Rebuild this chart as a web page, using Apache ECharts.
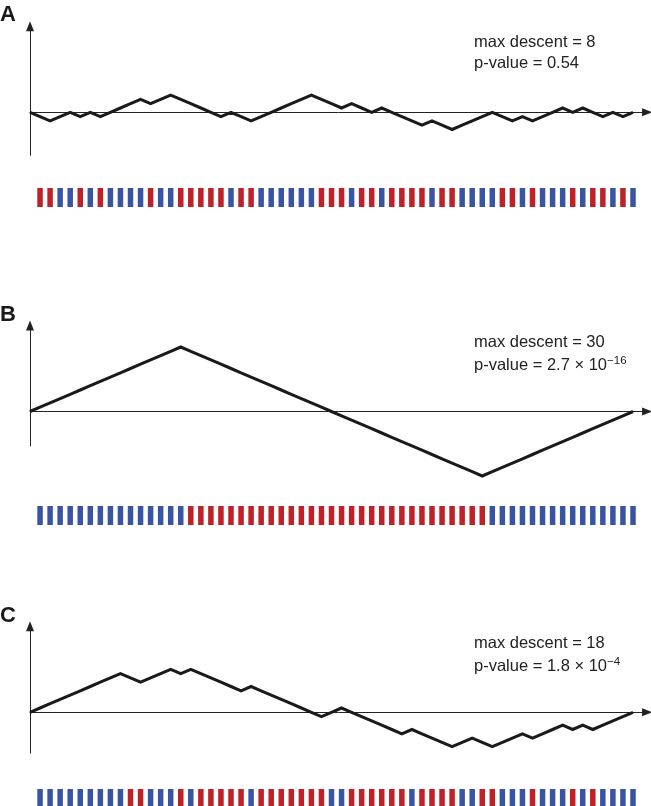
<!DOCTYPE html>
<html>
<head>
<meta charset="utf-8">
<script src="https://cdn.jsdelivr.net/npm/echarts@6/dist/echarts.min.js"></script>
<style>
  html, body { margin: 0; padding: 0; background: #fff; }
  #chart { width: 651px; height: 806px; }
</style>
</head>
<body>
<div id="chart"></div>
<script>
// step colours: B = up step (blue), R = down step (red)
const stepsA = ['R','R','B','B','R','B','R','B','B','B','B','R','B','B','R','R','R','R','R','B',
  'R','R','B','B','B','B','B','B','R','R','R','B','R','R','B','R','R','R','R','B',
  'R','R','B','B','B','B','R','R','B','R','B','B','B','R','B','R','R','B','R','B'];
const stepsB = ['B','B','B','B','B','B','B','B','B','B','B','B','B','B','B',
  'R','R','R','R','R','R','R','R','R','R','R','R','R','R','R',
  'R','R','R','R','R','R','R','R','R','R','R','R','R','R','R',
  'B','B','B','B','B','B','B','B','B','B','B','B','B','B','B'];
const stepsC = ['B','B','B','B','B','B','B','B','B','R','R','B','B','B','R','B','R','R','R','R',
  'R','B','R','R','R','R','R','R','R','B','B','R','R','R','R','R','R','B','R','R',
  'R','R','B','B','R','R','B','B','B','R','B','B','B','R','B','R','B','B','B','B'];

// walk values at positions 0..60
const walkA = [0,-1,-2,-1,0,-1,0,-1,0,1,2,3,2,3,4,3,2,1,0,-1,0,-1,-2,-1,0,1,2,3,4,3,2,
  1,2,1,0,1,0,-1,-2,-3,-2,-3,-4,-3,-2,-1,0,-1,-2,-1,-2,-1,0,1,0,1,0,-1,0,-1,0];
const walkB = [0,1,2,3,4,5,6,7,8,9,10,11,12,13,14,15,14,13,12,11,10,9,8,7,6,5,4,3,2,1,0,
  -1,-2,-3,-4,-5,-6,-7,-8,-9,-10,-11,-12,-13,-14,-15,-14,-13,-12,-11,-10,-9,-8,-7,-6,-5,-4,-3,-2,-1,0];
const walkC = [0,1,2,3,4,5,6,7,8,9,8,7,8,9,10,9,10,9,8,7,6,5,6,5,4,3,2,1,0,-1,0,
  1,0,-1,-2,-3,-4,-5,-4,-5,-6,-7,-8,-7,-6,-7,-8,-7,-6,-5,-6,-5,-4,-3,-4,-3,-4,-3,-2,-1,0];

const panelLabels = ['A', 'B', 'C'];
const maxDescent = ['8', '30', '18'];
const pValues = [['0.54', ''], ['2.7 \u00d7 10', '\u221216'], ['1.8 \u00d7 10', '\u22124']];

const RED = '#be2128';
const BLUE = '#3a54a4';
const STEP = 10.05;
const XMAX = 61.4;
const VS = 4.3; // px per unit step
const FONT = '"Liberation Sans", Arial, sans-serif';

const panels = [
  { zero: 112.3, ymin: -10, ymax: 20, strip: 188, text: 34 },
  { zero: 411.5, ymin: -8, ymax: 20, strip: 506, text: 334 },
  { zero: 712.3, ymin: -9.5, ymax: 20, strip: 789, text: 635 }
];
const walks = [walkA, walkB, walkC];
const steps = [stepsA, stepsB, stepsC];

const chart = echarts.init(document.getElementById('chart'), null, { renderer: 'canvas' });

const grid = [], xAxis = [], yAxis = [], series = [], graphic = [];

panels.forEach((p, k) => {
  // line grid
  grid.push({ left: 30, width: XMAX * STEP, top: p.zero - p.ymax * VS, height: (p.ymax - p.ymin) * VS });
  xAxis.push({
    type: 'value', gridIndex: 2 * k, min: 0, max: XMAX,
    axisLine: { show: true, onZero: true, symbol: ['none', 'triangle'], symbolSize: [8, 10],
      lineStyle: { color: '#222', width: 1 } },
    axisTick: { show: false }, axisLabel: { show: false }, splitLine: { show: false }
  });
  yAxis.push({
    type: 'value', gridIndex: 2 * k, min: p.ymin, max: p.ymax,
    axisLine: { show: true, symbol: ['none', 'triangle'], symbolSize: [8, 10],
      lineStyle: { color: '#222', width: 1 } },
    axisTick: { show: false }, axisLabel: { show: false }, splitLine: { show: false }
  });
  series.push({
    type: 'line', xAxisIndex: 2 * k, yAxisIndex: 2 * k,
    data: walks[k].map((v, i) => [i, v]),
    showSymbol: false, silent: true, clip: false,
    lineStyle: { color: '#1a1a1a', width: 3, join: 'miter' }
  });

  // colour strip grid
  grid.push({ left: 30, width: XMAX * STEP, top: p.strip, height: 19 });
  xAxis.push({ type: 'value', gridIndex: 2 * k + 1, min: 0, max: XMAX, show: false });
  yAxis.push({ type: 'value', gridIndex: 2 * k + 1, min: 0, max: 1, show: false });
  series.push({
    type: 'bar', xAxisIndex: 2 * k + 1, yAxisIndex: 2 * k + 1,
    barWidth: 5.5, silent: true,
    data: steps[k].map((s, i) => ({ value: [i + 1, 1], itemStyle: { color: s === 'R' ? RED : BLUE } }))
  });

  // texts
  graphic.push({
    type: 'text', left: 0, top: p.text - 30,
    style: { text: panelLabels[k], font: 'bold 22px ' + FONT, fill: '#1a1a1a' }
  });
  graphic.push({
    type: 'text', left: 474, top: p.text,
    style: { text: 'max descent = ' + maxDescent[k], font: '16.5px ' + FONT, fill: '#222' }
  });
  graphic.push({
    type: 'text', left: 474, top: p.text + 21,
    style: {
      text: 'p-value = ' + pValues[k][0] + (pValues[k][1] ? '{sup|' + pValues[k][1] + '}' : ''),
      font: '16.5px ' + FONT, fill: '#222',
      rich: { sup: { fontSize: 11.5, fill: '#222', padding: [0, 0, 9, 0], fontFamily: FONT } }
    }
  });
});

chart.setOption({
  animation: false,
  backgroundColor: '#fff',
  grid, xAxis, yAxis, series, graphic
});
</script>
</body>
</html>
